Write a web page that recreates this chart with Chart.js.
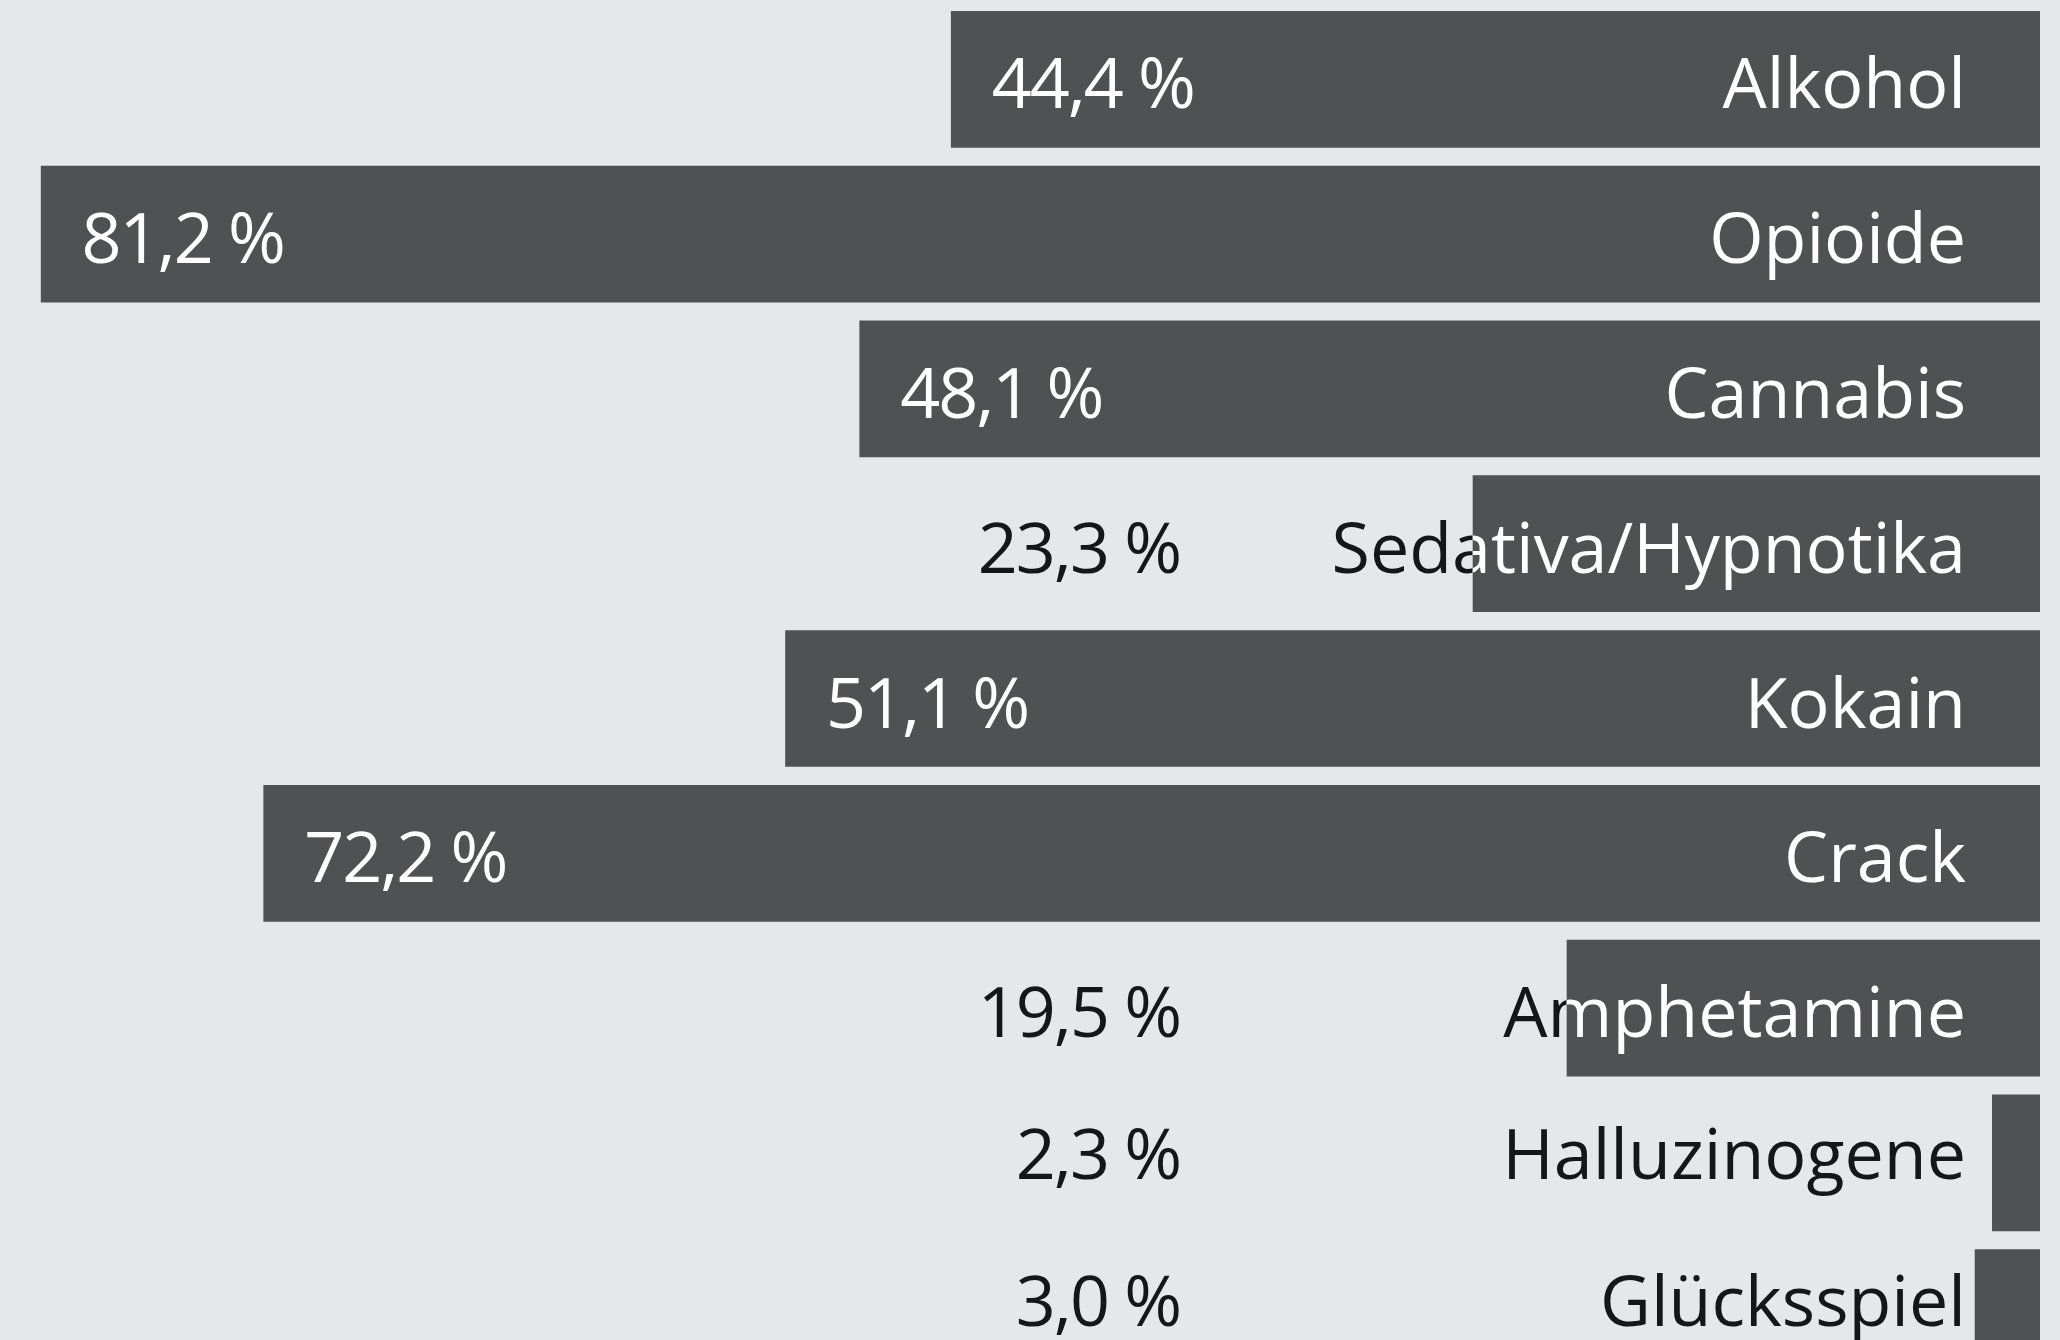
<!DOCTYPE html>
<html>
<head>
<meta charset="utf-8">
<script src="https://cdn.jsdelivr.net/npm/chart.js@4"></script>
<style>
  html, body { margin: 0; padding: 0; background: #e6e7e8; overflow: hidden; }
  canvas { display: block; }
</style>
</head>
<body>
<canvas id="c" width="2060" height="1395"></canvas>
<script>
const categories = ["Alkohol", "Opioide", "Cannabis", "Sedativa/Hypnotika", "Kokain", "Crack", "Amphetamine", "Halluzinogene", "Glücksspiel"];
const values = [44.4, 81.2, 48.1, 23.3, 51.1, 72.2, 19.5, 2.3, 3.0];

const BAR = '#505153';
const DARK = '#141618';
const FONT = '70px "Open Sans", "Noto Sans", sans-serif';

function fmt(v) { return v.toFixed(1).replace('.', ',') + ' %'; }

function labelShift(i, n) {
  // the last two text rows sit slightly higher than their bars in the original
  if (i === n - 2) return -13;
  if (i === n - 1) return -21;
  return 0;
}

const splitLabels = {
  id: 'splitLabels',
  afterDatasetsDraw(chart) {
    const ctx = chart.ctx;
    const meta = chart.getDatasetMeta(0);
    const n = meta.data.length;
    meta.data.forEach((bar, i) => {
      const p = bar.getProps(['x', 'y', 'base', 'height'], true);
      const left = Math.min(p.x, p.base), right = Math.max(p.x, p.base);
      const top = p.y - p.height / 2, h = p.height;
      const baseline = p.y + 29 + labelShift(i, n);
      const v = values[i];
      const valX = v >= 30 ? left + 241 : 1178;
      const texts = [[fmt(v), valX + 2, '-2px'], [categories[i], 1966, '0px']];
      const drawAll = (color) => {
        ctx.font = FONT;
        ctx.textAlign = 'right';
        ctx.textBaseline = 'alphabetic';
        ctx.fillStyle = color;
        texts.forEach(t => {
          ctx.letterSpacing = t[2];
          ctx.fillText(t[0], t[1], baseline);
        });
        ctx.letterSpacing = '0px';
      };
      ctx.save();
      ctx.beginPath();
      ctx.rect(0, 0, chart.width, chart.height);
      ctx.rect(left, top, right - left, h);
      ctx.clip('evenodd');
      drawAll(DARK);
      ctx.restore();
      ctx.save();
      ctx.beginPath();
      ctx.rect(left, top, right - left, h);
      ctx.clip();
      drawAll('#ffffff');
      ctx.restore();
    });
  }
};

new Chart(document.getElementById('c'), {
  type: 'bar',
  data: {
    labels: categories,
    datasets: [{
      data: values,
      backgroundColor: BAR,
      borderWidth: 0,
      barPercentage: 0.8834,
      categoryPercentage: 1.0
    }]
  },
  options: {
    indexAxis: 'y',
    responsive: false,
    animation: false,
    layout: { padding: { top: 2, right: 20, left: 0, bottom: 0 } },
    scales: {
      x: { reverse: true, min: 0.36, max: 82.85, display: false },
      y: { display: false }
    },
    plugins: { legend: { display: false }, tooltip: { enabled: false } }
  },
  plugins: [splitLabels]
});
</script>
</body>
</html>
